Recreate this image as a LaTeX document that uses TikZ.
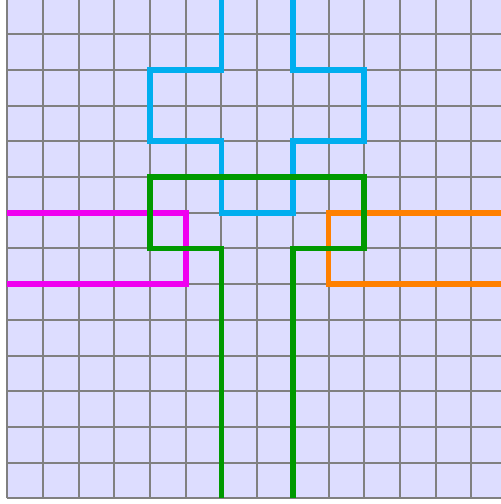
\documentclass[tikz,border=0pt]{standalone}
\definecolor{bgfill}{RGB}{221,221,255}
\definecolor{gridgray}{RGB}{128,128,128}
\definecolor{pcyan}{RGB}{0,174,239}
\definecolor{pmagenta}{RGB}{240,0,240}
\definecolor{porange}{RGB}{255,128,0}
\definecolor{pgreen}{RGB}{0,153,0}
\begin{document}
\begin{tikzpicture}[
  gridline/.style={draw=gridgray,line width=1.6pt},
  pathline/.style={line width=4.6pt}
]
\useasboundingbox (-0.205,-0.16) rectangle (13.83,13.96);
\fill[bgfill] (0,0) rectangle (14,14);
\draw[gridline] (0,0) grid (14,14);
\draw[pathline,pcyan] (6,14)--(6,12)--(4,12)--(4,10)--(6,10)--(6,8)--(8,8)--(8,10)--(10,10)--(10,12)--(8,12)--(8,14);
\draw[pathline,pmagenta] (0,8)--(5,8)--(5,6)--(0,6);
\draw[pathline,porange] (14,8)--(9,8)--(9,6)--(14,6);
\draw[pathline,pgreen] (6,0)--(6,7)--(4,7)--(4,9)--(10,9)--(10,7)--(8,7)--(8,0);
\end{tikzpicture}
\end{document}
